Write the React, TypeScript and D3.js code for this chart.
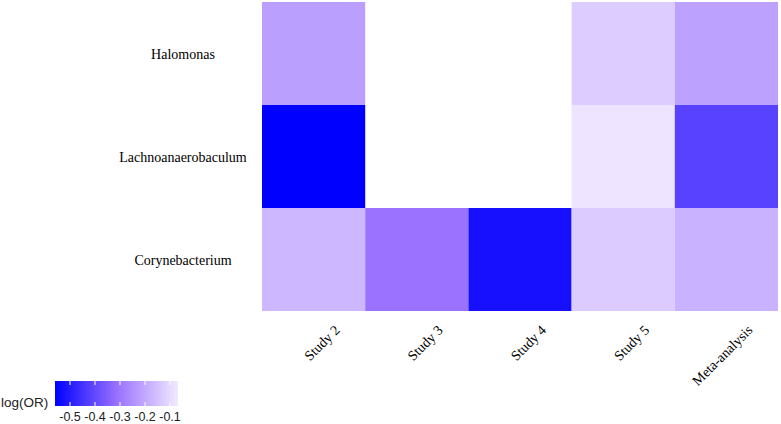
import React, { useEffect, useRef } from "react";
import * as d3 from "d3";

const taxa = ["Halomonas", "Lachnoanaerobaculum", "Corynebacterium"];
const studies = ["Study 2", "Study 3", "Study 4", "Study 5", "Meta-analysis"];

// log(OR) per taxon, one entry per study (null = not reported)
const halomonas = [-0.22, null, null, -0.128, -0.215];
const lachnoanaerobaculum = [-0.56, null, null, -0.08, -0.415];
const corynebacterium = [-0.17, -0.31, -0.525, -0.13, -0.18];

const legendTicks = [-0.5, -0.4, -0.3, -0.2, -0.1];

interface Cell {
  taxon: string;
  study: string;
  value: number | null;
}

const App: React.FC = () => {
  const svgRef = useRef<SVGSVGElement | null>(null);

  useEffect(() => {
    if (!svgRef.current) return;
    const width = 781;
    const height = 424;
    const margin = { top: 2, right: 3, bottom: 113, left: 262 };

    const svg = d3.select(svgRef.current);
    svg.selectAll("*").remove();

    const rows = [halomonas, lachnoanaerobaculum, corynebacterium];
    const cells: Cell[] = [];
    taxa.forEach((t, i) =>
      studies.forEach((s, j) => cells.push({ taxon: t, study: s, value: rows[i][j] }))
    );

    const x = d3
      .scaleBand<string>()
      .domain(studies)
      .range([margin.left, width - margin.right]);
    const y = d3
      .scaleBand<string>()
      .domain(taxa)
      .range([margin.top, height - margin.bottom]);

    const vmin = -0.56;
    const vmax = -0.068;
    const vmid = -0.31;
    const color = d3
      .scaleLinear<string>()
      .domain([vmin, vmid, vmax])
      .range(["#0000ff", "#9a72ff", "#f2eaff"])
      .clamp(true);

    // heatmap cells
    svg
      .append("g")
      .selectAll("rect")
      .data(cells.filter((d) => d.value !== null))
      .join("rect")
      .attr("x", (d) => x(d.study)!)
      .attr("y", (d) => y(d.taxon)!)
      .attr("width", x.bandwidth())
      .attr("height", y.bandwidth())
      .attr("fill", (d) => color(d.value as number));

    // row labels
    svg
      .append("g")
      .selectAll("text")
      .data(taxa)
      .join("text")
      .attr("x", 183)
      .attr("y", (d) => y(d)! + y.bandwidth() / 2 + 5)
      .attr("text-anchor", "middle")
      .style("font-family", "'Liberation Serif', 'Times New Roman', serif")
      .style("font-size", "14px")
      .attr("fill", "#000")
      .text((d) => d);

    // column labels, rotated
    const colY = height - margin.bottom + 20;
    svg
      .append("g")
      .selectAll("text")
      .data(studies)
      .join("text")
      .attr(
        "transform",
        (d) => `translate(${x(d)! + x.bandwidth() / 2 + 27},${colY}) rotate(-45)`
      )
      .attr("text-anchor", "end")
      .style("font-family", "'Liberation Serif', 'Times New Roman', serif")
      .style("font-size", "14px")
      .attr("fill", "#000")
      .text((d) => d);

    // colour legend
    const legend = svg.append("g");
    const lx = d3.scaleLinear().domain([vmin, vmax]).range([55, 178]);
    const barTop = 381;
    const barH = 25;

    const grad = svg
      .append("defs")
      .append("linearGradient")
      .attr("id", "logor-grad")
      .attr("x1", "0%")
      .attr("x2", "100%");
    [vmin, vmid, vmax].forEach((v) => {
      grad
        .append("stop")
        .attr("offset", `${((v - vmin) / (vmax - vmin)) * 100}%`)
        .attr("stop-color", color(v));
    });

    legend
      .append("rect")
      .attr("x", lx(vmin))
      .attr("y", barTop)
      .attr("width", lx(vmax) - lx(vmin))
      .attr("height", barH)
      .attr("fill", "url(#logor-grad)");

    legend
      .selectAll("line.tt")
      .data(legendTicks)
      .join("line")
      .attr("class", "tt")
      .attr("x1", (d) => lx(d))
      .attr("x2", (d) => lx(d))
      .attr("y1", barTop)
      .attr("y2", barTop + 4)
      .attr("stroke", "#fff")
      .attr("stroke-width", 1);

    legend
      .selectAll("line.tb")
      .data(legendTicks)
      .join("line")
      .attr("class", "tb")
      .attr("x1", (d) => lx(d))
      .attr("x2", (d) => lx(d))
      .attr("y1", barTop + barH - 4)
      .attr("y2", barTop + barH)
      .attr("stroke", "#fff")
      .attr("stroke-width", 1);

    legend
      .selectAll("text.tl")
      .data(legendTicks)
      .join("text")
      .attr("class", "tl")
      .attr("x", (d) => lx(d))
      .attr("y", 421)
      .attr("text-anchor", "middle")
      .style("font-family", "'Liberation Sans', Arial, sans-serif")
      .style("font-size", "12.5px")
      .attr("fill", "#222")
      .text((d) => d.toFixed(1));

    legend
      .append("text")
      .attr("x", 1)
      .attr("y", 407)
      .style("font-family", "'Liberation Sans', Arial, sans-serif")
      .style("font-size", "13.5px")
      .attr("fill", "#222")
      .text("log(OR)");
  }, []);

  return (
    <svg
      ref={svgRef}
      width={781}
      height={424}
      style={{ position: "absolute", left: 0, top: 0, background: "#fff" }}
    ></svg>
  );
};

export default App;
